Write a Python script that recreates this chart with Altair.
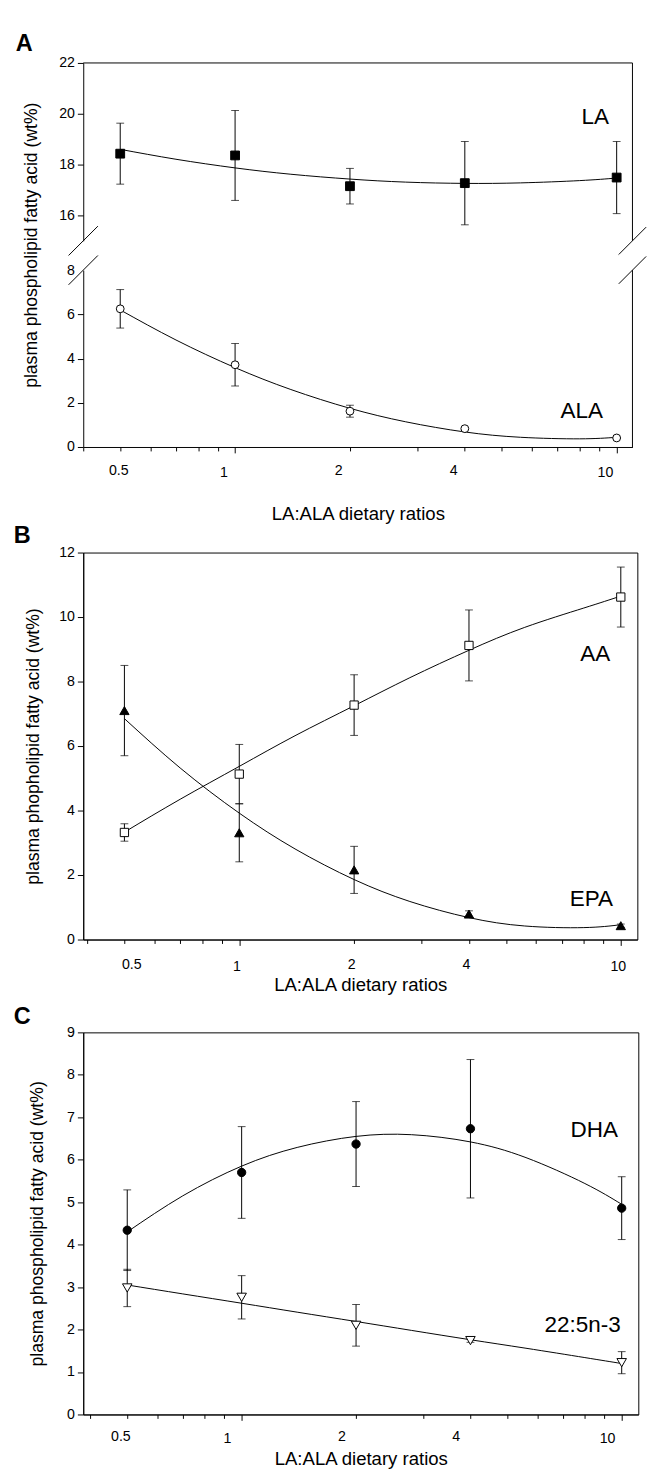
import altair as alt
import pandas as pd

FONT = "Liberation Sans, Arial, Helvetica, sans-serif"

# ---------------- data ----------------
ratios = [0.5, 1, 2, 4, 10]

# Panel A
la_mean = [18.43, 18.36, 17.15, 17.27, 17.49]
la_err = [1.20, 1.77, 0.70, 1.64, 1.42]
ala_mean = [6.25, 3.72, 1.62, 0.83, 0.41]
ala_err = [0.87, 0.96, 0.27, 0.05, 0.03]

# Panel B
aa_mean = [3.32, 5.13, 7.27, 9.12, 10.62]
aa_err = [0.27, 0.92, 0.94, 1.10, 0.93]
epa_mean = [7.10, 3.31, 2.16, 0.79, 0.43]
epa_err = [1.40, 0.90, 0.73, 0.10, 0.05]

# Panel C
dha_mean = [4.34, 5.70, 6.37, 6.73, 4.86]
dha_err = [0.95, 1.08, 1.00, 1.63, 0.74]
dpa_mean = [2.98, 2.76, 2.10, 1.74, 1.22]
dpa_err = [0.44, 0.51, 0.49, 0.04, 0.26]

# fitted curves
curve_x = [0.5, 0.7, 1, 1.4, 2, 2.8, 4, 5.6, 8, 10]
la_fit = [18.60, 18.21, 17.87, 17.62, 17.43, 17.31, 17.26, 17.28, 17.37, 17.47]
ala_fit = [6.20, 4.84, 3.59, 2.60, 1.75, 1.14, 0.68, 0.44, 0.37, 0.44]
aa_fit = [3.33, 4.35, 5.37, 6.32, 7.25, 8.12, 8.97, 9.68, 10.28, 10.65]
epa_fit = [6.85, 5.32, 3.92, 2.81, 1.86, 1.18, 0.68, 0.42, 0.37, 0.46]
dha_fit = [4.30, 5.15, 5.85, 6.29, 6.55, 6.59, 6.42, 6.05, 5.44, 4.95]
dpa_fit = [3.05, 2.84, 2.62, 2.41, 2.19, 1.98, 1.76, 1.56, 1.34, 1.20]

x_tick_values = [0.4, 0.5, 0.6, 0.7, 0.8, 0.9, 1, 2, 3, 4, 5, 6, 7, 8, 9, 10]
x_label_values = [0.5, 1, 2, 4, 10]
x_major_values = [1, 10]

TITLE_Y = "plasma phospholipid fatty acid (wt%)"
TITLE_Y_B = "plasma phopholipid fatty acid (wt%)"
TITLE_X = "LA:ALA dietary ratios"

one = pd.DataFrame({"k": [0]})

AXIS_STYLE = dict(
    labelFont=FONT, titleFont=FONT, labelColor="black", titleColor="black",
    domainColor="black", tickColor="black", labelFontSize=14.5,
    titleFontWeight="normal", domainWidth=1, tickWidth=1, grid=False,
)


def make_x(domain, first_shift, other_shift, label_pad, title_y):
    show = " || ".join("datum.value == %s" % v for v in x_label_values)
    major = " || ".join("datum.value == %s" % v for v in x_major_values)
    axis = alt.Axis(
        values=x_tick_values,
        labelExpr="(%s) ? format(datum.value, '~g') : ''" % show,
        tickSize={"condition": {"test": major, "value": 6}, "value": 4},
        labelOffset={"condition": {"test": "datum.value < 0.75", "value": first_shift},
                     "value": other_shift},
        labelPadding=label_pad,
        labelOverlap=False,
        labelFlush=False,
        title=TITLE_X,
        titleFontSize=19,
        titleY=title_y,
        titleBaseline="alphabetic",
        **AXIS_STYLE,
    )
    scale = alt.Scale(type="log", domain=domain, nice=False)

    def f(field):
        return alt.X(field, type="quantitative", scale=scale, axis=axis)
    return f


def make_y(domain, values, rng=None, title=None, title_x=None, title_y=None, hide=None):
    kw = dict(values=values, orient="left", tickSize=6, labelPadding=3, **AXIS_STYLE)
    if title:
        kw.update(title=title, titleFontSize=18, titleX=title_x, titleAngle=-90,
                  titleBaseline="bottom", titleAlign="center")
        if title_y is not None:
            kw["titleY"] = title_y
    else:
        kw["title"] = None
    if hide is not None:
        kw["tickOpacity"] = {"condition": {"test": "datum.value == %s" % hide, "value": 0},
                             "value": 1}
    axis = alt.Axis(**kw)
    skw = dict(domain=domain, nice=False, zero=False)
    if rng is not None:
        skw["range"] = rng
    scale = alt.Scale(**skw)

    def f(field):
        return alt.Y(field, type="quantitative", scale=scale, axis=axis)
    return f


def series(xf, yf, mean, err, shape, fill, size, fit):
    lo = [m - e for m, e in zip(mean, err)]
    hi = [m + e for m, e in zip(mean, err)]
    pts = pd.DataFrame({"ratio": ratios, "mean": mean, "lo": lo, "hi": hi})
    caps = pd.DataFrame({"ratio": ratios + ratios, "v": lo + hi})
    fitdf = pd.DataFrame({"ratio": curve_x, "v": fit})
    line = alt.Chart(fitdf).mark_line(color="black", strokeWidth=1, interpolate="natural").encode(
        x=xf("ratio"), y=yf("v"))
    stems = alt.Chart(pts).mark_rule(color="black", strokeWidth=1).encode(
        x=xf("ratio"), y=yf("lo"), y2=alt.Y2("hi"))
    capm = alt.Chart(caps).mark_tick(orient="horizontal", size=8, thickness=1, color="black").encode(
        x=xf("ratio"), y=yf("v"))
    point = alt.Chart(pts).mark_point(shape=shape, filled=True, fill=fill, stroke="black",
                                      strokeWidth=1, size=size, opacity=1).encode(
        x=xf("ratio"), y=yf("mean"))
    return [line, stems, capm, point]


def rule(x, y, x2=None, y2=None, opacity=1):
    enc = dict(x=alt.value(x), y=alt.value(y))
    if x2 is not None:
        enc["x2"] = alt.value(x2)
    if y2 is not None:
        enc["y2"] = alt.value(y2)
    return alt.Chart(one).mark_rule(color="black", strokeWidth=1, opacity=opacity).encode(**enc)


def label(text, x, y):
    return alt.Chart(one).mark_text(text=text, font=FONT, fontSize=23, color="black",
                                    align="center", baseline="middle").encode(
        x=alt.value(x), y=alt.value(y))


def letter(text, x, y):
    return alt.Chart(one).mark_text(text=text, font=FONT, fontSize=24, fontWeight="bold",
                                    color="black", align="left", baseline="alphabetic").encode(
        x=alt.value(x), y=alt.value(y))


# ---------------- Panel A (broken y axis) ----------------
WA, HA = 562, 393
UP_BOTTOM, LO_TOP = 182, 212
xA = make_x([0.4, 11.0], -2, -12, 13, 74)
yA_up = make_y([15, 22], [16, 18, 20, 22], rng=[UP_BOTTOM, 0])
yA_lo = make_y([0, 8], [0, 2, 4, 6, 8], rng=[HA, LO_TOP], title=TITLE_Y,
               title_x=-44, title_y=186, hide=8)

upper = alt.layer(*series(xA, yA_up, la_mean, la_err, "square", "black", 81, la_fit))
lower = alt.layer(*series(xA, yA_lo, ala_mean, ala_err, "circle", "white", 64, ala_fit))

decoA = [
    rule(0, 0, x2=WA),
    rule(WA, 0, y2=UP_BOTTOM),
    rule(WA, LO_TOP, y2=HA),
    rule(-15, UP_BOTTOM + 15, x2=15, y2=UP_BOTTOM - 15),
    rule(-15, LO_TOP + 15, x2=15, y2=LO_TOP - 15),
    rule(WA - 14, UP_BOTTOM + 14, x2=WA + 14, y2=UP_BOTTOM - 14),
    rule(WA - 14, LO_TOP + 14, x2=WA + 14, y2=LO_TOP - 14),
    label("LA", 524, 55),
    label("ALA", 510, 356),
    letter("A", -69, -12),
]

panelA = alt.layer(upper, lower, *decoA).resolve_scale(y="independent").resolve_axis(
    y="independent").properties(width=WA, height=HA, view=alt.ViewBackground(stroke=None))

# ---------------- Panel B ----------------
WB, HB = 567, 396
xB = make_x([0.39, 11.05], 7, -3, 15, 52.5)
yB = make_y([0, 12], [0, 2, 4, 6, 8, 10, 12], title=TITLE_Y_B, title_x=-42)
panelB = alt.layer(
    *series(xB, yB, aa_mean, aa_err, "square", "white", 72, aa_fit),
    *series(xB, yB, epa_mean, epa_err, "triangle-up", "black", 90, epa_fit),
    label("AA", 524, 104),
    label("EPA", 520, 355),
    letter("B", -71, -10),
    rule(0, HB, y2=HB + 65, opacity=0),
).properties(width=WB, height=HB)

# ---------------- Panel C ----------------
WC, HC = 568, 391
xC = make_x([0.383, 11.06], -7, -15, 12, 51)
yC = make_y([0, 9], list(range(10)), title=TITLE_Y, title_x=-38)
panelC = alt.layer(
    *series(xC, yC, dha_mean, dha_err, "circle", "black", 72, dha_fit),
    *series(xC, yC, dpa_mean, dpa_err, "triangle-down", "white", 95, dpa_fit),
    label("DHA", 523, 100),
    label("22:5n-3", 511, 300),
    letter("C", -71, -9),
).properties(width=WC, height=HC)

chart = alt.vconcat(panelA, panelB, panelC, spacing=0).properties(
    background="white",
    padding={"left": 5, "right": 5, "top": 8, "bottom": 2},
).configure_view(stroke="black", strokeWidth=1)

chart.save("out.html", embed_options={"renderer": "svg", "actions": False})
